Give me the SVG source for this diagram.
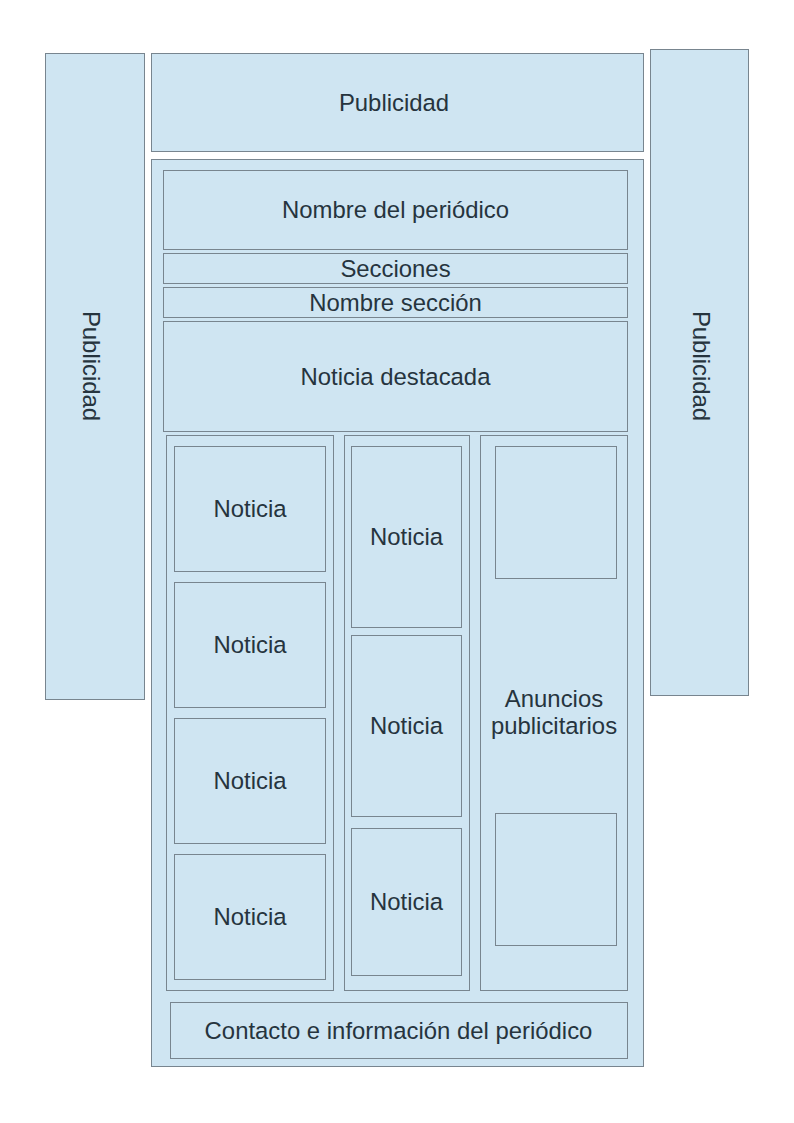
<svg xmlns="http://www.w3.org/2000/svg" width="794" height="1123" viewBox="0 0 794 1123">
  <style>
    .b { fill: #cfe5f2; stroke: #78858f; stroke-width: 1; }
    .t { font-family: "Liberation Sans", Arial, sans-serif; font-size: 23.9px; fill: #26343e; text-anchor: middle; }
  </style>
  <rect x="0" y="0" width="794" height="1123" fill="#ffffff"/>
  <g id="publicidad-izq">
    <rect class="b" x="45.5" y="53.5" width="99" height="646"/>
    <text class="t" transform="translate(82.5,366) rotate(90)" x="0" y="0">Publicidad</text>
  </g>
  <g id="publicidad-sup">
    <rect class="b" x="151.5" y="53.5" width="492" height="98"/>
    <text class="t" x="394" y="110.5">Publicidad</text>
  </g>
  <g id="publicidad-der">
    <rect class="b" x="650.5" y="49.5" width="98" height="646"/>
    <text class="t" transform="translate(693.3,366) rotate(90)" x="0" y="0">Publicidad</text>
  </g>
  <g id="pagina">
    <rect class="b" x="151.5" y="159.5" width="492" height="907"/>
  </g>
  <g id="nombre-periodico">
    <rect class="b" x="163.5" y="170.5" width="464" height="79"/>
    <text class="t" x="395.5" y="218">Nombre del periódico</text>
  </g>
  <g id="secciones">
    <rect class="b" x="163.5" y="253.5" width="464" height="30"/>
    <text class="t" x="395.5" y="276.6">Secciones</text>
  </g>
  <g id="nombre-seccion">
    <rect class="b" x="163.5" y="287.5" width="464" height="30"/>
    <text class="t" x="395.5" y="310.6">Nombre sección</text>
  </g>
  <g id="noticia-destacada">
    <rect class="b" x="163.5" y="321.5" width="464" height="110"/>
    <text class="t" x="395.5" y="384.5">Noticia destacada</text>
  </g>
  <g id="columna-1">
    <rect class="b" x="166.5" y="435.5" width="167" height="555"/>
  </g>
  <g id="noticia-1-1">
    <rect class="b" x="174.5" y="446.5" width="151" height="125"/>
    <text class="t" x="250" y="517">Noticia</text>
  </g>
  <g id="noticia-1-2">
    <rect class="b" x="174.5" y="582.5" width="151" height="125"/>
    <text class="t" x="250" y="653">Noticia</text>
  </g>
  <g id="noticia-1-3">
    <rect class="b" x="174.5" y="718.5" width="151" height="125"/>
    <text class="t" x="250" y="789">Noticia</text>
  </g>
  <g id="noticia-1-4">
    <rect class="b" x="174.5" y="854.5" width="151" height="125"/>
    <text class="t" x="250" y="925">Noticia</text>
  </g>
  <g id="columna-2">
    <rect class="b" x="344.5" y="435.5" width="125" height="555"/>
  </g>
  <g id="noticia-2-1">
    <rect class="b" x="351.5" y="446.5" width="110" height="181"/>
    <text class="t" x="406.5" y="545">Noticia</text>
  </g>
  <g id="noticia-2-2">
    <rect class="b" x="351.5" y="635.5" width="110" height="181"/>
    <text class="t" x="406.5" y="734">Noticia</text>
  </g>
  <g id="noticia-2-3">
    <rect class="b" x="351.5" y="828.5" width="110" height="147"/>
    <text class="t" x="406.5" y="910">Noticia</text>
  </g>
  <g id="anuncios">
    <rect class="b" x="480.5" y="435.5" width="147" height="555"/>
    <text class="t" x="554" y="706.7">Anuncios</text>
    <text class="t" x="554" y="733.7">publicitarios</text>
  </g>
  <g id="anuncio-1">
    <rect class="b" x="495.5" y="446.5" width="121" height="132"/>
  </g>
  <g id="anuncio-2">
    <rect class="b" x="495.5" y="813.5" width="121" height="132"/>
  </g>
  <g id="contacto">
    <rect class="b" x="170.5" y="1002.5" width="457" height="56"/>
    <text class="t" x="398.5" y="1038.5">Contacto e información del periódico</text>
  </g>
  <g id="conectores"/>
</svg>
